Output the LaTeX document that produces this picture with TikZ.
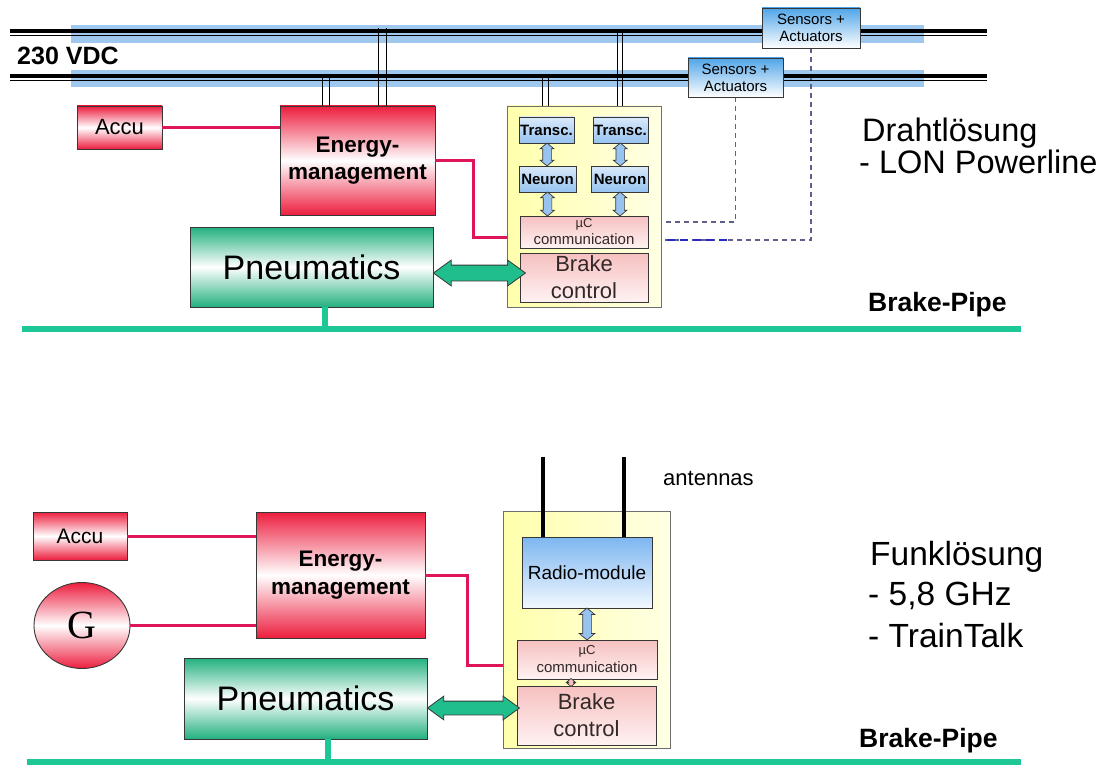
\documentclass[tikz,border=0pt]{standalone}
\usepackage{fontspec}
\setmainfont{Liberation Sans}
\newfontfamily\serifG{Liberation Serif}
\usetikzlibrary{shapes.geometric,shapes.arrows,calc}

\definecolor{cred}{RGB}{236,30,62}
\definecolor{cgreen}{RGB}{34,176,126}
\definecolor{cpipe}{RGB}{30,200,150}
\definecolor{carrow}{RGB}{32,190,140}
\definecolor{cpink}{RGB}{222,22,88}
\definecolor{cband}{RGB}{158,200,238}
\definecolor{cedge}{RGB}{55,55,55}
\definecolor{cyel}{RGB}{255,255,172}
\definecolor{cyel2}{RGB}{255,255,228}
\definecolor{csens}{RGB}{80,165,232}
\definecolor{clblue}{RGB}{150,195,240}
\definecolor{cvlblue}{RGB}{218,234,250}
\definecolor{cradio}{RGB}{125,182,240}
\definecolor{cradio2}{RGB}{242,248,255}
\definecolor{crose}{RGB}{246,192,192}
\definecolor{crose2}{RGB}{255,242,242}
\definecolor{cdash}{RGB}{95,95,140}
\definecolor{cdashb}{RGB}{40,40,200}
\definecolor{ctext}{RGB}{50,40,40}

\newcommand\fsz[2]{\fontsize{#1}{#2}\selectfont}

\tikzset{
 box/.style={draw=cedge, line width=0.9pt, inner sep=0pt, align=center},
 redbox/.style={box, top color=cred, bottom color=cred, middle color=white},
 greenbox/.style={box, top color=cgreen, bottom color=cgreen, middle color=white},
 yelbox/.style={draw={rgb,255:red,110;green,110;blue,110}, line width=0.8pt, inner sep=0pt, left color=cyel, right color=cyel2},
 bluebox/.style={box, top color=cvlblue, bottom color=clblue},
 sensbox/.style={box, top color=csens, bottom color=white},
 radiobox/.style={box, top color=cradio, bottom color=cradio2},
 rosebox/.style={box, top color=crose, bottom color=crose2},
 pinkline/.style={cpink, line width=3pt},
 pipe/.style={cpipe, line width=6.5pt},
 feed/.style={black, line width=1pt},
 fatarrow/.style={double arrow, draw=cedge, line width=0.8pt, fill=carrow, inner xsep=0pt, inner ysep=7.5pt, double arrow head extend=5pt, double arrow tip angle=72},
 smallarrow/.style={double arrow, draw=cedge, line width=0.7pt, fill=clblue, inner xsep=0pt, inner ysep=4pt, double arrow head extend=2.5pt, double arrow tip angle=100, rotate=90},
 txt/.style={anchor=base west, inner sep=0pt},
}

\begin{document}
\begin{tikzpicture}[x=1pt,y=-1pt]
\useasboundingbox (0,0) rectangle (1119,765);
\fill[white] (0,0) rectangle (1119,765);

% ---------------- top: wired solution ----------------
\coordinate (busT) at (0,31);
\coordinate (busL) at (0,76);
\fill[cband] (71,25) rectangle (924,43);
\fill[cband] (71,70) rectangle (924,87);

% nodes
\node[redbox, minimum width=85pt, minimum height=43pt, font=\fsz{22}{26}] (accuA) at (119.5,127.5) {Accu};
\node[redbox, minimum width=155pt, minimum height=109pt, font=\fsz{22.5}{27}\bfseries] (energyA) at (357.5,160.5) {Energy-\\management};
\node[greenbox, minimum width=243pt, minimum height=80pt, font=\fsz{34}{40}] (pneuA) at (311.5,267) {Pneumatics};
\node[yelbox, minimum width=154pt, minimum height=201pt] (yellowA) at (584,206.5) {};
\node[sensbox, minimum width=98pt, minimum height=40pt, font=\fsz{15}{17}] (sens1) at (811,28) {Sensors +\\Actuators};
\node[sensbox, minimum width=95pt, minimum height=39pt, font=\fsz{15}{17}] (sens2) at (735.5,77.5) {Sensors +\\Actuators};

% dashed sensor lines
\coordinate (d1) at (0,222);
\coordinate (d2) at (0,240);
\coordinate (d2b) at (727,240);
\draw[cdash, line width=1.1pt, dash pattern=on 5pt off 4pt] (sens2.south) |- (yellowA.east |- d1);
\draw[cdash, line width=1.1pt, dash pattern=on 5pt off 4pt] (sens1.south) |- (yellowA.east |- d2);
\draw[cdashb, line width=2pt, dash pattern=on 8pt off 5pt] ($(yellowA.east |- d2)+(6,0)$) -- (d2b);

% bus lines
\draw[line width=4pt] (10,31) -- (987,31);
\draw[line width=1.3pt] (10,35.3) -- (987,35.3);
\draw[line width=4pt] (10,76) -- (987,76);
\draw[line width=1.3pt] (10,80.3) -- (987,80.3);
\node[txt, font=\fsz{25}{30}\bfseries] (vdc) at (17,65) {230 VDC};

% feeders
\foreach \dx in {43,50} {\coordinate (f) at ($(energyA.north west)+(\dx,0)$); \draw[feed] (f) -- (f |- busL);}
\foreach \dx in {99,107} {\coordinate (f) at ($(energyA.north west)+(\dx,0)$); \draw[feed] (f) -- ($(f |- busT)+(0,-3)$);}
\foreach \dx in {36,42} {\coordinate (f) at ($(yellowA.north west)+(\dx,0)$); \draw[feed] (f) -- (f |- busL);}
\foreach \dx in {111,116} {\coordinate (f) at ($(yellowA.north west)+(\dx,0)$); \draw[feed] (f) -- (f |- busT);}

% redraw sensors on top of the bus
\node[sensbox, minimum width=98pt, minimum height=40pt, font=\fsz{15}{17}] at (sens1) {Sensors +\\Actuators};
\node[sensbox, minimum width=95pt, minimum height=39pt, font=\fsz{15}{17}] at (sens2) {Sensors +\\Actuators};

% inside the yellow box
\node[bluebox, minimum width=55pt, minimum height=26pt, font=\fsz{15}{18}\bfseries] (transcL) at (546.5,130) {Transc.};
\node[bluebox, minimum width=55pt, minimum height=26pt, font=\fsz{15}{18}\bfseries] (transcR) at (620.5,130) {Transc.};
\node[bluebox, minimum width=57pt, minimum height=26pt, font=\fsz{15}{18}\bfseries] (neuronL) at (547.5,179) {Neuron};
\node[bluebox, minimum width=57pt, minimum height=26pt, font=\fsz{15}{18}\bfseries] (neuronR) at (620,179) {Neuron};
\node[rosebox, minimum width=128pt, minimum height=32pt, font=\fsz{15}{17}, text=ctext] (mcA) at (584,232) {{\fsz{13}{14}µC}\\communication};
\node[rosebox, minimum width=128pt, minimum height=49pt, font=\fsz{22}{27}, text=ctext] (brakeA) at (584,277.5) {Brake\\control};

\node[smallarrow, minimum height=23pt] (a1) at ($(transcL.south)!0.5!(neuronL.north)$) {};
\node[smallarrow, minimum height=23pt] (a2) at ($(transcR.south)!0.5!(neuronR.north)$) {};
\node[smallarrow, minimum height=24pt] (a3) at ($(neuronL.south)!0.5!(neuronL.south |- mcA.north)$) {};
\node[smallarrow, minimum height=24pt] (a4) at ($(neuronR.south)!0.5!(neuronR.south |- mcA.north)$) {};

% connectors
\draw[pinkline] (accuA.east) -- (accuA.east -| energyA.west);
\coordinate (pk1) at (473,237);
\draw[pinkline] (energyA.east) -| (pk1) -- (pk1 -| yellowA.west);
\coordinate (ga) at (0,273);
\node[fatarrow, minimum height=92pt] (arrA) at ($(pneuA.east |- ga)+(46,0)$) {};

% brake pipe
\coordinate (pA1) at (22,329);
\coordinate (pA2) at (1021,329);
\draw[pipe] (pA1) -- (pA2);
\coordinate (sA) at ($(pneuA.south)+(13.5,0)$);
\draw[pipe] (sA) -- (sA |- pA1);
\node[txt, font=\fsz{26.5}{30}\bfseries] (bpA) at (868,311) {Brake-Pipe};

\node[txt, font=\fsz{32.5}{36}] (wire1) at (862,142) {Drahtlösung};
\node[txt, font=\fsz{32.5}{36}] (wire2) at (859,174) {- LON Powerline};

% ---------------- bottom: radio solution ----------------
\node[redbox, minimum width=94pt, minimum height=48pt, font=\fsz{21}{25}] (accuB) at (80,536) {Accu};
\node[redbox, ellipse, minimum width=96pt, minimum height=86pt, font=\serifG\fsz{40}{44}] (gen) at (82,625.5) {G};
\node[redbox, minimum width=169pt, minimum height=126pt, font=\fsz{22.5}{28}\bfseries] (energyB) at (340.5,575) {Energy-\\management};
\node[greenbox, minimum width=243pt, minimum height=81pt, font=\fsz{34}{40}] (pneuB) at (305.5,698.5) {Pneumatics};
\node[yelbox, minimum width=167pt, minimum height=237pt] (yellowB) at (586.5,629.5) {};
\node[radiobox, minimum width=130pt, minimum height=71pt, font=\fsz{19}{22}] (radio) at (587,572.5) {Radio-module};
\node[rosebox, minimum width=140pt, minimum height=39pt, font=\fsz{15}{18}, text=ctext] (mcB) at (587,659.5) {{\fsz{13}{14}µC}\\communication};
\node[rosebox, minimum width=139pt, minimum height=59pt, font=\fsz{22}{27}, text=ctext] (brakeB) at (586.5,715.5) {Brake\\control};

\node[smallarrow, minimum height=32pt, double arrow head extend=3.5pt] (a5) at ($(radio.south)!0.5!(radio.south |- mcB.north)$) {};
\node[smallarrow, minimum height=8pt, inner ysep=2pt, double arrow head extend=2pt, fill=crose] (a6) at (571,682.5) {};

\coordinate (ant1) at (543,457);
\coordinate (ant2) at (624,457);
\draw[line width=4pt] (ant1) -- (ant1 |- radio.north);
\draw[line width=4pt] (ant2) -- (ant2 |- radio.north);
\node[txt, font=\fsz{22}{26}] (antTxt) at (663,485) {antennas};

\draw[pinkline] (accuB.east) -- (accuB.east -| energyB.west);
\draw[pinkline] (gen.east) -- (gen.east -| energyB.west);
\coordinate (pk2) at (467,665);
\draw[pinkline] (energyB.east) -| (pk2) -- (pk2 -| yellowB.west);
\coordinate (gb) at (0,708);
\node[fatarrow, minimum height=92pt, inner ysep=6.5pt, double arrow head extend=5pt] (arrB) at ($(pneuB.east |- gb)+(46,0)$) {};

\coordinate (pB1) at (27,762);
\coordinate (pB2) at (1021,762);
\draw[pipe] (pB1) -- (pB2);
\coordinate (sB) at ($(pneuB.south)+(22.5,0)$);
\draw[pipe] (sB) -- (sB |- pB1);
\node[txt, font=\fsz{26.5}{30}\bfseries] (bpB) at (859,747) {Brake-Pipe};

\node[txt, font=\fsz{33.5}{36}] (radio1) at (870,565) {Funklösung};
\node[txt, font=\fsz{33.5}{36}] (radio2) at (868,605) {- 5,8 GHz};
\node[txt, font=\fsz{33.5}{36}] (radio3) at (868,647) {- TrainTalk};
\end{tikzpicture}
\end{document}
